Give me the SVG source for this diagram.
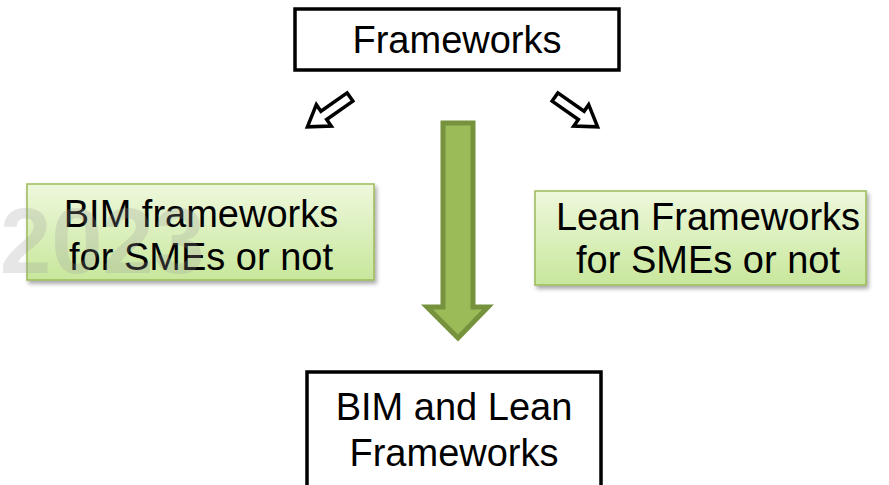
<svg xmlns="http://www.w3.org/2000/svg" width="889" height="485" viewBox="0 0 889 485">
<defs>
<linearGradient id="g" x1="0" y1="0" x2="0" y2="1">
<stop offset="0" stop-color="#eef8dc"/>
<stop offset="1" stop-color="#c8e79c"/>
</linearGradient>
<filter id="sh" x="-5%" y="-5%" width="115%" height="120%">
<feDropShadow dx="2" dy="3" stdDeviation="2" flood-color="#000" flood-opacity="0.35"/>
</filter>
</defs>
<style>
.t{font-family:"Liberation Sans",Arial,sans-serif;font-size:38px;fill:#000;text-anchor:middle}
.box{fill:#fff;stroke:#000;stroke-width:3.5}
.gbox{fill:url(#g);stroke:#9bbb59;stroke-width:1.5;filter:url(#sh)}
.sa{fill:#fff;stroke:#000;stroke-width:3.5;stroke-linejoin:miter}
.wm{font-family:"Liberation Sans",Arial,sans-serif;font-weight:bold;font-size:92px;fill:#9a9a9a;fill-opacity:0.25}
</style>
<g id="frameworks">
<rect class="box" x="295" y="9" width="324" height="61"/>
<text class="t" x="457" y="53">Frameworks</text>
</g>
<g id="connectors">
<path class="sa" transform="translate(350,97) rotate(145)" d="M0,-5 L32,-5 L32,-13 L52,0 L32,13 L32,5 L0,5 Z"/>
<path class="sa" transform="translate(555,97) rotate(35)" d="M0,-5 L32,-5 L32,-13 L52,0 L32,13 L32,5 L0,5 Z"/>
<path d="M443,123 L473,123 L473,307 L488,307 L458,338 L427,307 L443,307 Z" fill="#9bbb59" stroke="#76923c" stroke-width="5" stroke-linejoin="miter"/>
</g>
<g id="bim">
<rect class="gbox" x="27" y="184" width="347" height="96"/>
<text class="t" x="201" y="227">BIM frameworks</text>
<text class="t" x="201" y="270">for SMEs or not</text>
</g>
<text class="wm" x="0" y="273">2023</text>
<g id="lean">
<rect class="gbox" x="535" y="191" width="331" height="94"/>
<text class="t" x="708" y="230">Lean Frameworks</text>
<text class="t" x="708" y="273">for SMEs or not</text>
</g>
<g id="bimlean">
<rect class="box" x="307" y="372" width="294" height="120"/>
<text class="t" x="454" y="420">BIM and Lean</text>
<text class="t" x="454" y="466">Frameworks</text>
</g>
</svg>
